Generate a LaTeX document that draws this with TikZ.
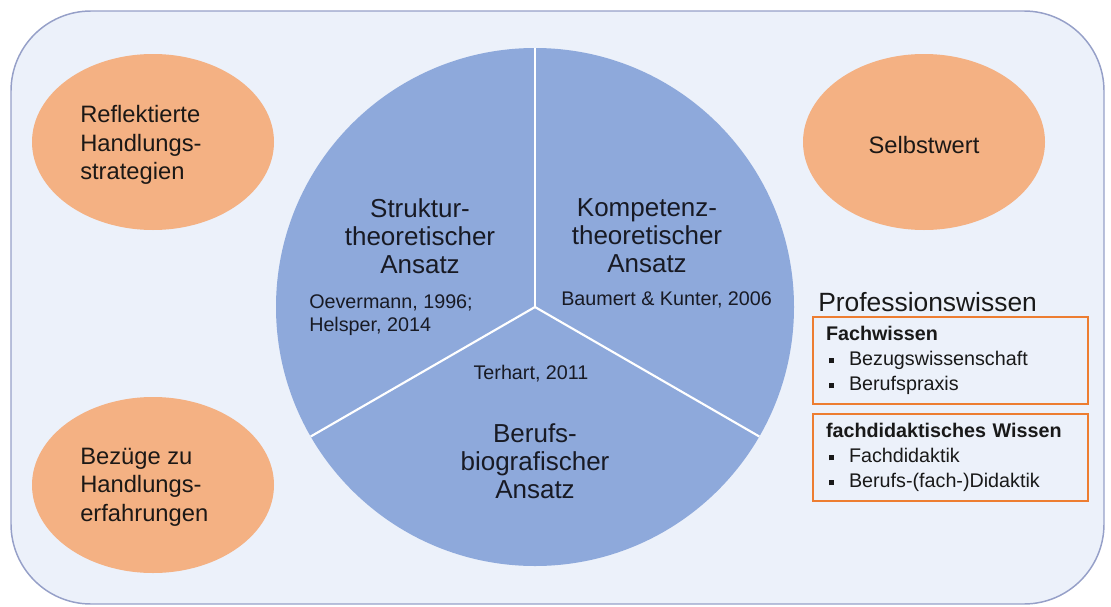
\documentclass[tikz,border=0pt]{standalone}
\usepackage{fontspec}
\setmainfont{Liberation Sans}
\usetikzlibrary{shapes.geometric}

% small square bullet for the lists in the boxes
\newcommand{\sqbul}{\hspace*{2pt}\makebox[15.25pt][l]{\rule[1.7pt]{4.3pt}{4.3pt}}}

\begin{document}
\begin{tikzpicture}[x=0.75pt,y=0.75pt,yscale=-1,xscale=1,
    panel/.style={draw={rgb, 255:red, 150; green, 160; blue, 200 }, fill={rgb, 255:red, 236; green, 241; blue, 250 }, line width=1.1, rounded corners=60pt},
    bubble/.style={ellipse, fill={rgb, 255:red, 244; green, 177; blue, 131 }, minimum width=181.5pt, minimum height=132pt, inner sep=0pt},
    bubbletext/.style={inner sep=0pt, align=left, text={rgb, 255:red, 28; green, 24; blue, 22 }, font=\fontsize{17.8}{21.4}\selectfont},
    pietitle/.style={inner sep=0pt, align=center, text={rgb, 255:red, 24; green, 26; blue, 36 }, font=\fontsize{19.5}{21}\selectfont},
    pieref/.style={inner sep=0pt, align=left, text={rgb, 255:red, 24; green, 26; blue, 36 }, font=\fontsize{14.8}{17.3}\selectfont},
    divider/.style={draw=white, line width=1.6},
    knowbox/.style={draw={rgb, 255:red, 237; green, 125; blue, 49 }, line width=1.5, anchor=north west, minimum width=206.25pt, minimum height=65.25pt, text width=186.75pt, inner xsep=9.75pt, inner ysep=0pt, align=left, text={rgb, 255:red, 25; green, 25; blue, 25 }, font=\fontsize{14.8}{18.75}\selectfont}
]
\useasboundingbox (0,0) rectangle (1111,607);

%Shape: Rounded Rect
\draw [panel] (11,11) rectangle (1104,604);

%Shape: Ellipse
\node [bubble] (reflBub) at (153,142) {};
\node [bubble] (selbBub) at (924,142) {};
\node [bubble] (bezBub) at (153,485) {};

% Text Node
\node [bubbletext, anchor=west] (refl) at (80,145) {Reflektierte\\Handlungs-\\strategien};
\node [bubbletext] (selb) at (924,145) {Selbstwert};
\node [bubbletext, anchor=west] (bez) at (80,487) {Bezüge zu\\Handlungs-\\erfahrungen};

%Shape: Circle
\node [circle, fill={rgb, 255:red, 142; green, 169; blue, 219 }, minimum size=388.5pt, inner sep=0pt, outer sep=0pt] (pie) at (535,307) {};

%Straight Lines
\draw [divider] (pie.center) -- (pie.90);
\draw [divider] (pie.center) -- (pie.210);
\draw [divider] (pie.center) -- (pie.330);

% Text Node
\node [pietitle] (struk) at (420,236) {Struktur-\\theoretischer\\Ansatz};
\node [pietitle] (komp) at (647,236) {Kompetenz-\\theoretischer\\Ansatz};
\node [pietitle] (beruf) at (535,461) {Berufs-\\biografischer\\Ansatz};

\node [pieref, anchor=west] (oever) at (309,315) {Oevermann, 1996;\\Helsper, 2014};
\node [pieref, anchor=west] (baum) at (561,300) {Baumert \& Kunter, 2006};
\node [pieref] (terh) at (531,374) {Terhart, 2011};

% Text Node
\node [inner sep=0pt, anchor=west, text={rgb, 255:red, 25; green, 25; blue, 25 }, font=\fontsize{19.8}{22}\selectfont] (prof) at (818,302) {Professionswissen};

%Shape: Rectangle
\node [knowbox] (fach) at (812,316) {\textbf{Fachwissen}\\\sqbul Bezugswissenschaft\\\sqbul Berufspraxis};
\node [knowbox] (didak) at (812,413) {\textbf{fachdidaktisches Wissen}\\\sqbul Fachdidaktik\\\sqbul Berufs-(fach-)Didaktik};

\end{tikzpicture}
\end{document}
